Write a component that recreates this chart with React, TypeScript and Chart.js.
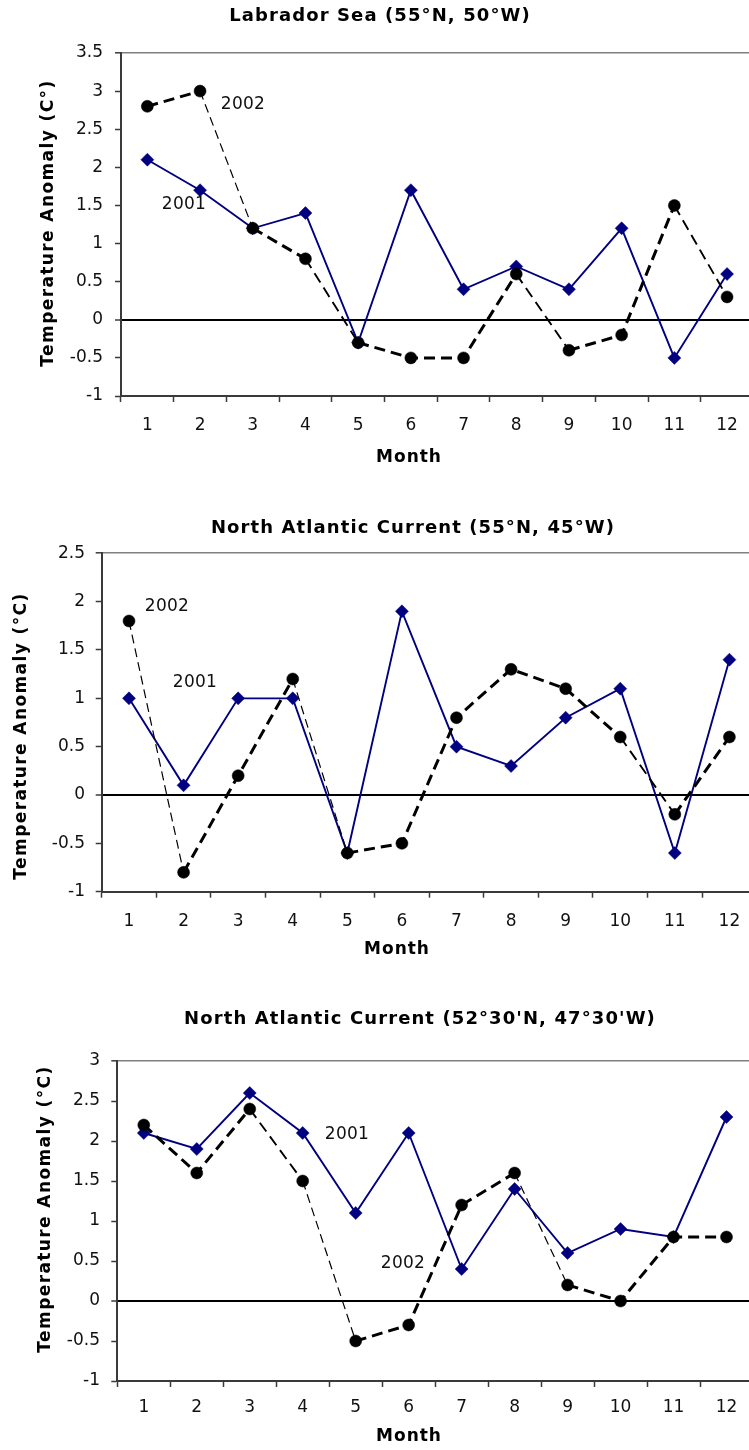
import React, { useEffect, useRef } from 'react';
import { Chart, registerables } from 'chart.js';

Chart.register(...registerables);

// ---------- data ----------
const MONTHS = ['1', '2', '3', '4', '5', '6', '7', '8', '9', '10', '11', '12'];
const SERIES_NAMES = ['2001', '2002'];

const LABRADOR_2001 = [2.1, 1.7, 1.2, 1.4, -0.3, 1.7, 0.4, 0.7, 0.4, 1.2, -0.5, 0.6];
const LABRADOR_2002 = [2.8, 3.0, 1.2, 0.8, -0.3, -0.5, -0.5, 0.6, -0.4, -0.2, 1.5, 0.3];

const NAC55_2001 = [1.0, 0.1, 1.0, 1.0, -0.6, 1.9, 0.5, 0.3, 0.8, 1.1, -0.6, 1.4];
const NAC55_2002 = [1.8, -0.8, 0.2, 1.2, -0.6, -0.5, 0.8, 1.3, 1.1, 0.6, -0.2, 0.6];

const NAC52_2001 = [2.1, 1.9, 2.6, 2.1, 1.1, 2.1, 0.4, 1.4, 0.6, 0.9, 0.8, 2.3];
const NAC52_2002 = [2.2, 1.6, 2.4, 1.5, -0.5, -0.3, 1.2, 1.6, 0.2, 0.0, 0.8, 0.8];

const PANEL_TITLES = [
  'Labrador Sea (55°N, 50°W)',
  'North Atlantic Current (55°N, 45°W)',
  "North Atlantic Current (52°30'N, 47°30'W)",
];
const Y_TITLES = ['Temperature Anomaly (C°)', 'Temperature Anomaly (°C)', 'Temperature Anomaly (°C)'];
const X_TITLE = 'Month';
const Y_MINS = [-1, -1, -1];
const Y_MAXS = [3.5, 2.5, 3];
const Y_STEP = 0.5;

// ---------- styles / layout ----------
const CANVAS_W = 770;
const FONT = '"DejaVu Sans", "Liberation Sans", Arial, sans-serif';
const NAVY = '#000080';
const AXIS = '#3a3a3a';

type Panel = {
  idx: number;
  d2001: number[];
  d2002: number[];
  top: number;
  height: number;
  left: number;
  plotTop: number;
  plotBottom: number;
  right: number;
  titleX: number;
  titleY: number;
  yTitleX: number;
  yTitleY: number;
  xTitleX: number;
  xTitleY: number;
  xTickPad: number;
  yTickPad: number;
  lab2001: [number, number];
  lab2002: [number, number];
};

const PANELS: Panel[] = [
  {
    idx: 0, d2001: LABRADOR_2001, d2002: LABRADOR_2002,
    top: 0, height: 490, left: 121, plotTop: 53, plotBottom: 396, right: 753.4,
    titleX: 380, titleY: 16, yTitleX: 49, yTitleY: 223, xTitleX: 409, xTitleY: 458,
    xTickPad: 13.8, yTickPad: 12, lab2001: [184, 205], lab2002: [243, 105],
  },
  {
    idx: 1, d2001: NAC55_2001, d2002: NAC55_2002,
    top: 490, height: 495, left: 101.7, plotTop: 553.3, plotBottom: 891.7, right: 756.7,
    titleX: 413, titleY: 528, yTitleX: 22, yTitleY: 736, xTitleX: 397, xTitleY: 950,
    xTickPad: 13.8, yTickPad: 10.7, lab2001: [195, 683], lab2002: [167, 607],
  },
  {
    idx: 2, d2001: NAC52_2001, d2002: NAC52_2002,
    top: 985, height: 465, left: 117.3, plotTop: 1061, plotBottom: 1381, right: 753,
    titleX: 420, titleY: 1019, yTitleX: 46, yTitleY: 1209, xTitleX: 409, xTitleY: 1437,
    xTickPad: 10.8, yTickPad: 11.3, lab2001: [347, 1135], lab2002: [403, 1264],
  },
];

function segSlope(ctx: any): number {
  const p0 = ctx.p0, p1 = ctx.p1;
  const dx = p1.x - p0.x;
  if (!dx) return 0;
  return (p1.y - p0.y) / dx; // positive = going down
}

function makeConfig(p: Panel): any {
  const top = p.top;
  const maxV = Y_MAXS[p.idx];
  const textPlugin = {
    id: 'panelText',
    beforeUpdate(chart: any) {
      chart.ctx.letterSpacing = '0px';
    },
    afterDraw(chart: any) {
      const ctx = chart.ctx;
      ctx.save();
      ctx.fillStyle = '#000';
      ctx.textAlign = 'center';
      ctx.textBaseline = 'middle';
      // chart title
      ctx.font = `bold 18px ${FONT}`;
      ctx.letterSpacing = '1.1px';
      ctx.fillText(PANEL_TITLES[p.idx], p.titleX, p.titleY - top);
      // x title
      ctx.font = `bold 17px ${FONT}`;
      ctx.letterSpacing = '1px';
      ctx.fillText(X_TITLE, p.xTitleX, p.xTitleY - top);
      // y title
      ctx.save();
      ctx.translate(p.yTitleX, p.yTitleY - top);
      ctx.rotate(-Math.PI / 2);
      ctx.letterSpacing = '1.4px';
      ctx.fillText(Y_TITLES[p.idx], 0, 0);
      ctx.restore();
      // series annotations
      ctx.font = `17px ${FONT}`;
      ctx.letterSpacing = '0.3px';
      ctx.fillStyle = '#111';
      ctx.fillText(SERIES_NAMES[0], p.lab2001[0], p.lab2001[1] - top);
      ctx.fillText(SERIES_NAMES[1], p.lab2002[0], p.lab2002[1] - top);
      ctx.restore();
    },
  };

  return {
    type: 'line',
    data: {
      labels: MONTHS,
      datasets: [
        {
          label: SERIES_NAMES[1],
          data: p.d2002,
          borderColor: '#000',
          backgroundColor: '#000',
          borderWidth: 3,
          borderDash: [11, 6],
          pointStyle: 'circle',
          pointRadius: 6,
          pointHoverRadius: 6,
          pointBorderWidth: 0.5,
          pointBackgroundColor: '#000',
          pointBorderColor: '#000',
          tension: 0,
          order: 0,
          segment: {
            borderWidth: (ctx: any) => {
              const s = segSlope(ctx);
              if (s > 1.9) return 1.2;
              if (s > 1.0) return 1.9;
              return 3;
            },
            borderDash: (ctx: any) => (segSlope(ctx) > 1.9 ? [9, 5] : [11, 6]),
          },
        },
        {
          label: SERIES_NAMES[0],
          data: p.d2001,
          borderColor: NAVY,
          backgroundColor: NAVY,
          borderWidth: 1.9,
          pointStyle: 'rectRot',
          pointRadius: 6.5,
          pointHoverRadius: 6.5,
          pointBorderWidth: 0.5,
          pointBackgroundColor: NAVY,
          pointBorderColor: NAVY,
          tension: 0,
          order: 1,
        },
      ],
    },
    options: {
      animation: false,
      responsive: false,
      devicePixelRatio: 1,
      events: [],
      layout: {
        padding: { top: p.plotTop - top, left: 0, right: CANVAS_W - p.right, bottom: 0 },
      },
      plugins: {
        legend: { display: false },
        tooltip: { enabled: false },
        title: { display: false },
      },
      scales: {
        x: {
          type: 'category',
          offset: true,
          grid: {
            offset: true,
            drawOnChartArea: false,
            drawTicks: true,
            tickLength: 6,
            tickColor: AXIS,
            tickWidth: 1.5,
          },
          border: { display: true, color: AXIS, width: 2 },
          ticks: {
            color: '#111',
            font: { family: FONT, size: 17 },
            padding: p.xTickPad,
            maxRotation: 0,
            autoSkip: false,
          },
          afterFit: (s: any) => {
            s.height = p.height - (p.plotBottom - top);
          },
        },
        y: {
          min: Y_MINS[p.idx],
          max: maxV,
          ticks: {
            stepSize: Y_STEP,
            color: '#111',
            font: { family: FONT, size: 17 },
            padding: p.yTickPad,
            callback: (v: any) => String(Math.round(Number(v) * 10) / 10),
          },
          grid: {
            drawTicks: true,
            tickLength: 6,
            tickColor: AXIS,
            tickWidth: 1.5,
            color: (c: any) => {
              const v = c.tick ? c.tick.value : null;
              if (v === 0) return '#000';
              if (v === maxV) return '#808080';
              return 'rgba(0,0,0,0)';
            },
            lineWidth: (c: any) => {
              const v = c.tick ? c.tick.value : null;
              if (v === 0) return 2;
              if (v === maxV) return 1.6;
              return 1;
            },
          },
          border: { display: true, color: AXIS, width: 2 },
          afterFit: (s: any) => {
            s.width = p.left;
          },
        },
      },
    },
    plugins: [textPlugin],
  };
}

function PanelChart({ panel }: { panel: Panel }) {
  const ref = useRef<HTMLCanvasElement | null>(null);
  useEffect(() => {
    if (!ref.current) return;
    const chart = new Chart(ref.current, makeConfig(panel));
    return () => chart.destroy();
  }, [panel]);
  return (
    <canvas
      ref={ref}
      width={CANVAS_W}
      height={panel.height}
      style={{
        position: 'absolute',
        left: 0,
        top: panel.top,
        width: CANVAS_W,
        height: panel.height,
        display: 'block',
      }}
    />
  );
}

export default function App() {
  return (
    <div
      style={{
        position: 'absolute',
        left: 0,
        top: 0,
        width: 749,
        height: 1450,
        overflow: 'hidden',
        background: '#fff',
      }}
    >
      {PANELS.map((p) => (
        <PanelChart key={p.idx} panel={p} />
      ))}
    </div>
  );
}
